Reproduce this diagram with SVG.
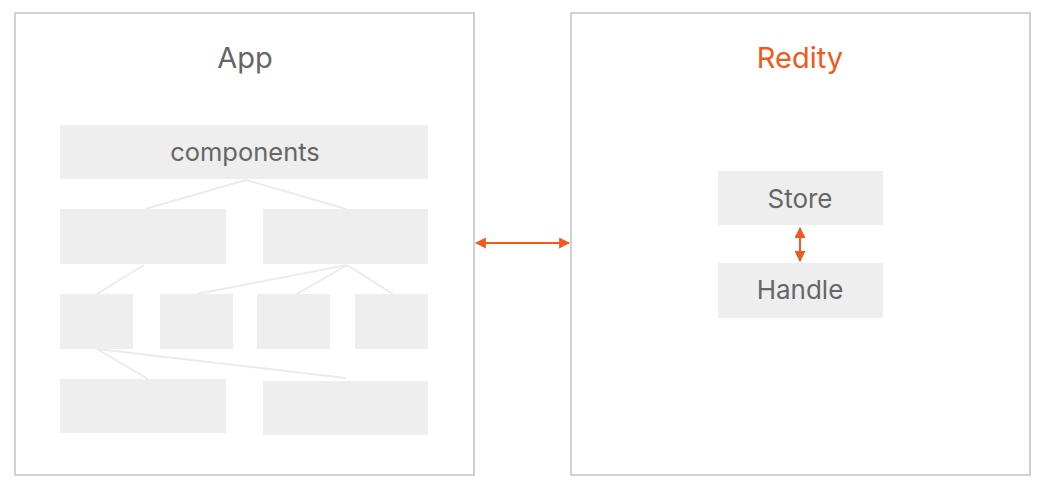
<svg xmlns="http://www.w3.org/2000/svg" width="1050" height="496" viewBox="0 0 1050 496">
<style>
.container{fill:#fff;stroke:#d0d0d0;stroke-width:2}
.box{fill:#eeeeee}
.label{font-family:Inter,"Liberation Sans",sans-serif;fill:#666;text-anchor:middle}
.tree{stroke:#ebebeb;stroke-width:2;fill:none}
.arrow{stroke:#f05a1e;stroke-width:2;fill:none}
</style>
<defs>
<marker id="ah" viewBox="0 0 10 10" refX="9" refY="5" markerWidth="5.5" markerHeight="5.5" orient="auto-start-reverse">
<path d="M0,0 L10,5 L0,10 z" fill="#f05a1e"/>
</marker>
</defs>
<rect width="1050" height="496" fill="#fff"/>
<g id="app">
<rect class="container" x="15" y="13" width="459" height="462"/>
<text class="label" x="245" y="68" font-size="29">App</text>
</g>
<g id="redity">
<rect class="container" x="571" y="13" width="459" height="462"/>
<text class="label" x="800" y="68" font-size="29" style="fill:#f05a1e">Redity</text>
</g>
<g id="components">
<rect class="box" x="60" y="125" width="368" height="54"/>
<text class="label" x="245" y="161" font-size="25.5">components</text>
</g>
<g id="c1"><rect class="box" x="60" y="209" width="166" height="55"/></g>
<g id="c2"><rect class="box" x="263" y="209" width="165" height="55"/></g>
<g id="c3"><rect class="box" x="60" y="294" width="73" height="55"/></g>
<g id="c4"><rect class="box" x="160" y="294" width="73" height="55"/></g>
<g id="c5"><rect class="box" x="257" y="294" width="73" height="55"/></g>
<g id="c6"><rect class="box" x="355" y="294" width="73" height="55"/></g>
<g id="c7"><rect class="box" x="60" y="379" width="166" height="54"/></g>
<g id="c8"><rect class="box" x="263" y="381" width="165" height="54"/></g>
<g id="store">
<rect class="box" x="718" y="171" width="165" height="54"/>
<text class="label" x="800" y="208" font-size="26">Store</text>
</g>
<g id="handle">
<rect class="box" x="718" y="263" width="165" height="55"/>
<text class="label" x="800" y="299" font-size="26">Handle</text>
</g>
<g id="connectors">
<path class="tree" d="M246,180 L145,209 M246,180 L346,209 M144,265 L97,294 M347,265 L197,294 M347,265 L297,294 M347,265 L393,294 M97,349 L148,379 M97,349 L346,378"/>
<line class="arrow" x1="476" y1="243" x2="569" y2="243" marker-start="url(#ah)" marker-end="url(#ah)"/>
<line class="arrow" x1="800" y1="228" x2="800" y2="261" marker-start="url(#ah)" marker-end="url(#ah)"/>
</g>
</svg>
